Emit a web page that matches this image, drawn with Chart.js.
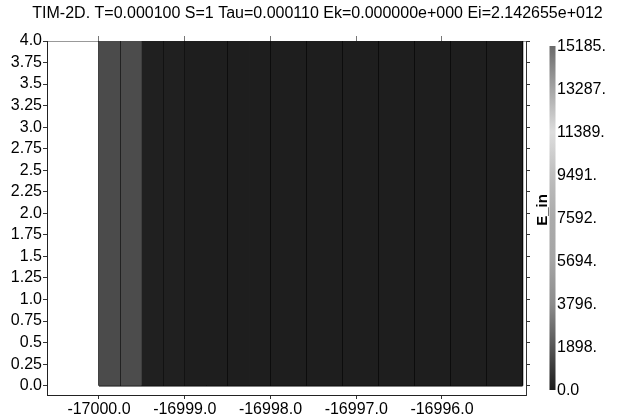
<!DOCTYPE html>
<html>
<head>
<meta charset="utf-8">
<script src="https://cdn.jsdelivr.net/npm/chart.js@4/dist/chart.umd.min.js"></script>
<style>
  html, body { margin: 0; padding: 0; background: #fff; }
  #wrap { width: 635px; height: 419px; }
</style>
</head>
<body>
<div id="wrap"><canvas id="c" width="635" height="419"></canvas></div>
<script>
// data
const titleText = 'TIM-2D. T=0.000100 S=1 Tau=0.000110 Ek=0.000000e+000 Ei=2.142655e+012';
const xEdges = [-17000.0, -16999.75, -16999.5, -16999.25, -16999.0, -16998.75, -16998.5, -16998.25,
                -16998.0, -16997.58, -16997.16, -16996.74, -16996.32, -16995.90, -16995.48, -16995.06];
const eIn = [1565, 1590, 130, 130, 70, 70, 70, 70, 70, 60, 60, 60, 60, 60, 60];
const yTop = 4.0;
const xTicks = [-17000, -16999, -16998, -16997, -16996];
const yTicks = [0, 0.25, 0.5, 0.75, 1, 1.25, 1.5, 1.75, 2, 2.25, 2.5, 2.75, 3, 3.25, 3.5, 3.75, 4];
const cbMax = 15185;
const cbTicks = [0, 1898, 3796, 5694, 7592, 9491, 11389, 13287, 15185];
const cbName = 'E_in';

// grey colormap (fraction, grey level)
const cmap = [[0, 28], [0.125, 85], [0.25, 140], [0.375, 165], [0.5, 170],
              [0.625, 190], [0.75, 222], [0.875, 165], [1, 106]];

function grey(v) {
  const f = Math.max(0, Math.min(1, v / cbMax));
  for (let i = 1; i < cmap.length; i++) {
    if (f <= cmap[i][0]) {
      const [f0, g0] = cmap[i - 1], [f1, g1] = cmap[i];
      const g = Math.round(g0 + (g1 - g0) * (f - f0) / (f1 - f0));
      return `rgb(${g},${g},${g})`;
    }
  }
  return 'rgb(106,106,106)';
}

const FONT = 'Liberation Sans, Arial, sans-serif';

const datasets = eIn.map((v, i) => ({
  type: 'line',
  data: [{ x: xEdges[i], y: yTop }, { x: xEdges[i + 1], y: yTop }],
  fill: 'origin',
  backgroundColor: grey(v),
  borderWidth: 0,
  pointRadius: 0
}));

// cell outlines
const outline = [];
xEdges.forEach(x => { outline.push({ x, y: 0 }, { x, y: yTop }, { x, y: null }); });
outline.push({ x: xEdges[0], y: 0 }, { x: xEdges[xEdges.length - 1], y: 0 });
datasets.push({
  type: 'line',
  data: outline,
  borderColor: '#000',
  borderWidth: 1.4,
  pointRadius: 0,
  fill: false,
  spanGaps: false
});

const xMin = -17000.606, xMax = -16995.02;
const yMin = -0.108, yMax = 4.0;

const fmtY = v => (Math.abs(v * 2 - Math.round(v * 2)) < 1e-9 ? v.toFixed(1) : v.toFixed(2));

const colorbar = {
  id: 'colorbar',
  afterDraw(chart) {
    const ctx = chart.ctx;
    const x = 549.5, w = 6, top = 46, bot = 390, h = bot - top;
    const g = ctx.createLinearGradient(0, bot, 0, top);
    cmap.forEach(([f, l]) => g.addColorStop(f, `rgb(${l},${l},${l})`));
    ctx.save();
    ctx.fillStyle = g;
    ctx.fillRect(x, top, w, h);
    ctx.fillStyle = '#000';
    ctx.font = '16px ' + FONT;
    ctx.textAlign = 'left';
    ctx.textBaseline = 'middle';
    cbTicks.forEach(v => {
      const y = bot - v / cbMax * h;
      ctx.fillText(v === 0 ? '0.0' : v + '.', x + w + 1.5, y + 1);
    });
    ctx.translate(543, 210);
    ctx.rotate(-Math.PI / 2);
    ctx.font = 'bold 15px ' + FONT;
    ctx.textAlign = 'center';
    ctx.textBaseline = 'middle';
    ctx.fillText(cbName, 0, 0);
    ctx.restore();
  }
};

new Chart(document.getElementById('c'), {
  type: 'line',
  data: { datasets },
  options: {
    responsive: false,
    animation: false,
    events: [],
    layout: { padding: 0 },
    plugins: {
      legend: { display: false },
      tooltip: { enabled: false },
      title: {
        display: true,
        text: titleText,
        color: '#000',
        font: { family: FONT, size: 16, weight: 'normal', lineHeight: 1.2 },
        padding: { top: 4, bottom: 0 }
      }
    },
    scales: {
      x: {
        type: 'linear', position: 'bottom', min: xMin, max: xMax,
        afterBuildTicks: s => { s.ticks = xTicks.map(value => ({ value })); },
        afterFit: s => { s.height = 24; },
        grid: { drawOnChartArea: false, tickLength: 4, color: '#333' },
        border: { color: '#222' },
        ticks: { color: '#000', padding: 1, maxRotation: 0, autoSkip: false,
                 font: { family: FONT, size: 16 }, callback: v => v.toFixed(1) }
      },
      x2: {
        type: 'linear', position: 'top', min: xMin, max: xMax,
        afterBuildTicks: s => { s.ticks = xTicks.map(value => ({ value })); },
        afterFit: s => { s.height = 41 - 23.2; },
        grid: { drawOnChartArea: false, tickLength: 5, color: '#777' },
        border: { color: '#999' },
        ticks: { display: false }
      },
      y: {
        type: 'linear', position: 'left', min: yMin, max: yMax,
        afterBuildTicks: s => { s.ticks = yTicks.map(value => ({ value })); },
        afterFit: s => { s.width = 47; },
        grid: { drawOnChartArea: false, tickLength: 4, color: '#333' },
        border: { color: '#222' },
        ticks: { color: '#000', padding: 1, autoSkip: false,
                 font: { family: FONT, size: 16 }, callback: v => fmtY(v) }
      },
      y2: {
        type: 'linear', position: 'right', min: yMin, max: yMax,
        afterBuildTicks: s => { s.ticks = yTicks.map(value => ({ value })); },
        afterFit: s => { s.width = 109; },
        grid: { drawOnChartArea: false, tickLength: 4, color: '#333' },
        border: { color: '#333' },
        ticks: { display: false }
      }
    }
  },
  plugins: [colorbar]
});
</script>
</body>
</html>
